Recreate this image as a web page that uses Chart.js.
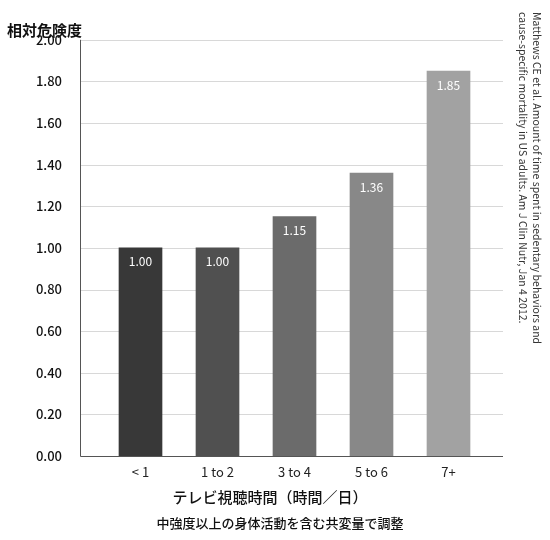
<!DOCTYPE html>
<html>
<head>
<meta charset="utf-8">
<script src="https://cdn.jsdelivr.net/npm/chart.js@4"></script>
<style>
  body { margin: 0; background: #fff; }
  #wrap { position: relative; width: 550px; height: 540px; }
</style>
</head>
<body>
<div id="wrap"><canvas id="myChart" width="550" height="540"></canvas></div>
<script>
const categories = ['< 1', '1 to 2', '3 to 4', '5 to 6', '7+'];
const riskValues = [1.00, 1.00, 1.15, 1.36, 1.85];
const barColors = ['#383838', '#505050', '#6b6b6b', '#888888', '#a2a2a2'];
const yTicks = [0, 0.2, 0.4, 0.6, 0.8, 1.0, 1.2, 1.4, 1.6, 1.8, 2.0];

const FONT = '"Noto Sans CJK JP", "Noto Sans", sans-serif';

// grid lines and axes extend past the category area, like the reference
const frame = {
  id: 'frame',
  beforeDatasetsDraw(chart) {
    const ctx = chart.ctx;
    const y = chart.scales.y;
    ctx.save();
    ctx.strokeStyle = '#d8d8d8';
    ctx.lineWidth = 1;
    yTicks.forEach((t) => {
      if (t === 0) return;
      const py = Math.round(y.getPixelForValue(t)) + 0.5;
      ctx.beginPath(); ctx.moveTo(80, py); ctx.lineTo(503, py); ctx.stroke();
    });
    ctx.strokeStyle = '#555';
    ctx.beginPath();
    ctx.moveTo(80.5, y.getPixelForValue(2)); ctx.lineTo(80.5, y.getPixelForValue(0) + 0.5);
    ctx.lineTo(503, y.getPixelForValue(0) + 0.5);
    ctx.stroke();
    ctx.restore();
  },
  afterDatasetsDraw(chart) {
    const ctx = chart.ctx;
    const meta = chart.getDatasetMeta(0);
    ctx.save();
    ctx.fillStyle = '#fff';
    ctx.font = '12px ' + FONT;
    ctx.textAlign = 'center';
    ctx.textBaseline = 'top';
    meta.data.forEach((bar, i) => {
      ctx.fillText(riskValues[i].toFixed(2), bar.x, bar.y + 8);
    });
    // titles
    ctx.fillStyle = '#111';
    ctx.font = 'bold 15px ' + FONT;
    ctx.textAlign = 'left';
    ctx.textBaseline = 'middle';
    ctx.fillText('相対危険度', 7, 30);
    ctx.textAlign = 'center';
    ctx.font = '500 15px ' + FONT;
    ctx.fillText('テレビ視聴時間（時間／日）', 270, 497);
    ctx.font = '500 13px ' + FONT;
    ctx.fillText('中強度以上の身体活動を含む共変量で調整', 280, 523);
    // source text, rotated
    ctx.translate(530, 12);
    ctx.rotate(Math.PI / 2);
    ctx.textAlign = 'left';
    ctx.font = '10.5px ' + FONT;
    ctx.fillStyle = '#333';
    ctx.fillText('Matthews CE et al. Amount of time spent in sedentary behaviors and', 0, -7);
    ctx.fillText('cause-specific mortality in US adults. Am J Clin Nutr, Jan 4 2012.', 0, 7);
    ctx.restore();
  }
};

function initChart(target) {
  return new Chart(target, {
    type: 'bar',
    data: {
      labels: categories,
      datasets: [{
        data: riskValues,
        backgroundColor: barColors,
        barThickness: 43
      }]
    },
    options: {
      responsive: false,
      animation: false,
      layout: { padding: { top: -6, right: 63, bottom: 0, left: 0 } },
      plugins: { legend: { display: false }, tooltip: { enabled: false } },
      scales: {
        x: {
          grid: { display: false },
          border: { display: false },
          ticks: { color: '#222', font: { size: 13, family: FONT }, padding: 0 },
          afterFit: (s) => { s.height = 84; }
        },
        y: {
          min: 0,
          max: 2,
          afterBuildTicks: (s) => { s.ticks = yTicks.map((v) => ({ value: v })); },
          afterFit: (s) => { s.width = 102; },
          grid: { display: false },
          border: { display: false },
          ticks: {
            color: '#111',
            padding: 32,
            font: { size: 13, family: FONT, weight: '500' },
            callback: (v) => Number(v).toFixed(2)
          }
        }
      }
    },
    plugins: [frame]
  });
}

document.addEventListener('DOMContentLoaded', () => initChart(document.querySelector('#myChart')));
</script>
</body>
</html>
